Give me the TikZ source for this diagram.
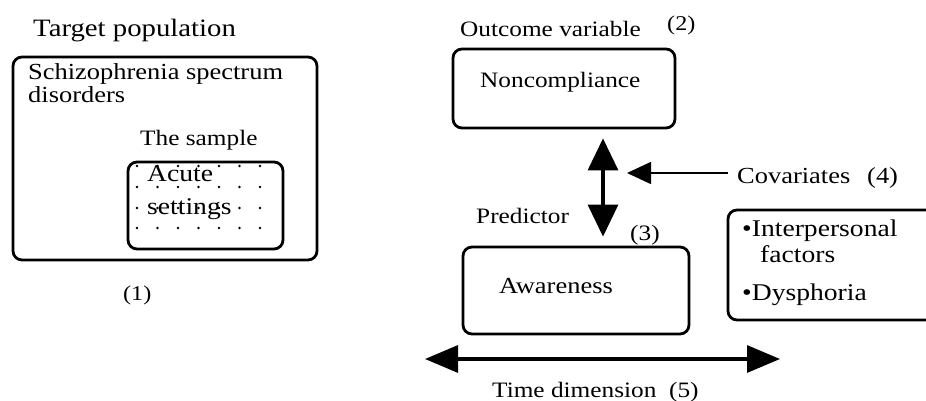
\documentclass[tikz,border=0pt]{standalone}
\usepackage{fontspec}
\setmainfont[FakeStretch=1.15]{Liberation Serif}
\usetikzlibrary{arrows.meta}

\tikzset{
  frame/.style={draw, line width=2.8pt, rounded corners=9pt, inner sep=0pt},
  lbl/.style={anchor=base west, inner sep=0pt, font=\fontsize{22}{24}\selectfont},
  bigtext/.style={anchor=base west, inner sep=0pt, font=\fontsize{25}{28}\selectfont},
  bullettext/.style={anchor=base west, inner sep=0pt, font=\fontsize{24}{26}\selectfont},
  dbl/.style={line width=3.2pt, {Triangle[length=32pt,width=30pt]}-{Triangle[length=32pt,width=30pt]}},
  thin/.style={line width=1.5pt, -{Triangle[length=24pt,width=22pt]}},
  timearrow/.style={line width=3.2pt, {Triangle[length=33pt,width=27pt]}-{Triangle[length=33pt,width=27pt]}},
  dotmark/.style={fill=black, inner sep=0pt, minimum size=2.8pt, circle}
}

\begin{document}
\begin{tikzpicture}[x=1pt,y=-1pt]
  \clip (0,0) rectangle (926,401);
  \fill[white] (0,0) rectangle (926,401);

  % ---- Target population (1) ----
  \node[bigtext] (tp) at (33,37) {Target population};
  \node[frame, minimum width=304pt, minimum height=203pt] (pop) at (165,158.5) {};
  \node[lbl, font=\fontsize{23}{24}\selectfont] (scz1) at (28,80) {Schizophrenia spectrum};
  \node[lbl, font=\fontsize{23}{24}\selectfont] (scz2) at (28,103) {disorders};
  \node[lbl] (smp) at (140,146) {The sample};

  % dotted fill of the sample box
  \foreach \i in {0,...,6}
    \foreach \j/\yy in {0/166,1/187,2/208,3/228}
      \node[dotmark] (d\i\j) at (137+20.5*\i,\yy) {};
  \node[frame, minimum width=155pt, minimum height=87pt] (sample) at (205.5,205.5) {};
  \node[lbl, font=\fontsize{24}{26}\selectfont] (acute) at (147,181) {Acute};
  \node[lbl, font=\fontsize{24}{26}\selectfont] (sett) at (147,214) {settings};
  \node[lbl, font=\fontsize{21}{22}\selectfont] (n1) at (123,300) {(1)};

  % ---- Outcome and predictor ----
  \node[lbl] (outv) at (460,37) {Outcome variable};
  \node[lbl, font=\fontsize{21}{22}\selectfont] (n2) at (667,31) {(2)};
  \node[frame, minimum width=222pt, minimum height=79pt] (nonc) at (564,88.5) {};
  \node[lbl] (nonctext) at (480,88) {Noncompliance};

  \node[lbl] (pred) at (476,223) {Predictor};
  \node[lbl] (n3) at (630,240) {(3)};
  \node[frame, minimum width=226pt, minimum height=87pt] (aware) at (576,290.5) {};
  \node[lbl, font=\fontsize{23}{24}\selectfont] (awaretext) at (499,293) {Awareness};

  \coordinate (va) at (603,0);
  \draw[dbl, shorten <=9pt, shorten >=9pt] (nonc.south -| va) -- (aware.north -| va);

  % ---- Covariates (4) ----
  \node[lbl, font=\fontsize{23}{24}\selectfont] (cov) at (737,183) {Covariates};
  \node[lbl, font=\fontsize{23}{24}\selectfont] (n4) at (867,183) {(4)};
  \coordinate (covtip) at (627,173);
  \draw[thin] (cov.west |- covtip) ++(-9,0) coordinate (covstart) -- (covtip);

  \draw[line width=2.8pt, rounded corners=9pt] (945,210) -- (728,210) -- (728,320) -- (945,320);
  \node[bullettext] (ip) at (742,236) {\textbullet Interpersonal};
  \node[bullettext] (fac) at (760,262) {factors};
  \node[bullettext] (dys) at (742,300) {\textbullet Dysphoria};

  % ---- Time dimension (5) ----
  \coordinate (tl) at (425,359);
  \coordinate (tr) at (780,359);
  \draw[timearrow] (tl) -- (tr);
  \node[lbl] (time) at (492,397) {Time dimension\ \ (5)};
\end{tikzpicture}
\end{document}
